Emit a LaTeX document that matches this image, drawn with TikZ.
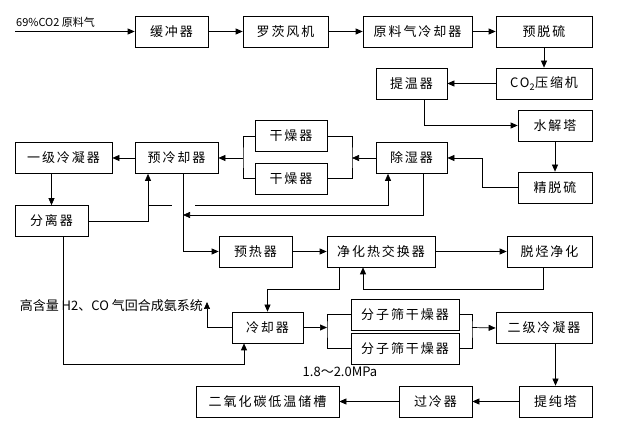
\documentclass[tikz,border=0pt]{standalone}
\usepackage{fontspec}
\setmainfont[LetterSpace=15]{Noto Sans CJK SC}
\newfontfamily\lblfont{Noto Sans CJK SC}
\usetikzlibrary{arrows.meta}

\begin{document}
\begin{tikzpicture}[x=1pt, y=-1pt,
    box/.style={draw, line width=0.7pt, minimum height=31pt, inner sep=0pt,
        font=\fontsize{13}{15}\selectfont},
    pipe/.style={line width=0.7pt},
    flow/.style={pipe, -{Triangle[length=7pt,width=6pt]}},
    lbl/.style={inner sep=0pt, font=\lblfont\fontsize{13}{15}\selectfont}]
    \useasboundingbox (0,0) rectangle (619,435);

    % Feed line
    \node[box, minimum width=73pt] (buf) at (171.5,31.5) {缓冲器};
    \node[box, minimum width=85pt] (fan) at (285.5,31.5) {罗茨风机};
    \node[box, minimum width=109pt] (feedcool) at (417.5,31.5) {原料气冷却器};
    \node[box, minimum width=96pt] (predes) at (544,31.5) {预脱硫};
    \node[box, minimum width=96pt] (comp) at (544,83.5) {CO\textsubscript{2}压缩机};
    \node[box, minimum width=71pt] (heater) at (411.5,83.5) {提温器};
    \node[box, minimum width=74pt] (hydro) at (555,125.5) {水解塔};
    \node[box, minimum width=74pt] (finedes) at (555,187.5) {精脱硫};

    % Drying and first condensation
    \node[box, minimum width=71pt] (dehum) at (411.5,158) {除湿器};
    \node[box, minimum width=72pt] (dryA) at (291,136) {干燥器};
    \node[box, minimum width=72pt] (dryB) at (291,178.5) {干燥器};
    \node[box, minimum width=83pt] (precool) at (176.5,158) {预冷却器};
    \node[box, minimum width=97pt] (condA) at (63.5,158) {一级冷凝器};
    \node[box, minimum width=73pt] (sep) at (51.5,221) {分离器};

    % Purification
    \node[box, minimum width=73pt] (prehe) at (255.5,251.5) {预热器};
    \node[box, minimum width=108pt] (hx) at (381,251.5) {净化热交换器};
    \node[box, minimum width=85pt] (dehc) at (549.5,251.5) {脱烃净化};
    \node[box, minimum width=71pt] (cooler) at (267.5,327.5) {冷却器};
    \node[box, minimum width=108pt] (sieveA) at (405,314.5) {分子筛干燥器};
    \node[box, minimum width=108pt] (sieveB) at (405,348.5) {分子筛干燥器};
    \node[box, minimum width=96pt] (condB) at (544,328) {二级冷凝器};
    \node[box, minimum width=73pt] (purif) at (555.5,401.5) {提纯塔};
    \node[box, minimum width=73pt] (subc) at (435.5,401.5) {过冷器};
    \node[box, minimum width=143pt] (tank) at (267.5,401.5) {二氧化碳低温储槽};

    % Labels
    \node[lbl, anchor=south west, font=\lblfont\fontsize{11}{13}\selectfont] (feedlbl) at (16,28) {69\%CO2 原料气};
    \node[lbl, anchor=east] (retlbl) at (203,306) {高含量 H2、CO 气回合成氨系统};
    \node[lbl] (press) at (340,372) {1.8～2.0MPa};

    % Helper points
    \coordinate (feedin) at (15,31.5);
    \coordinate (dryR) at (352,158);
    \coordinate (dryL) at (243,158);
    \coordinate (split) at (148,205);
    \coordinate (jumpL) at (172,205);
    \coordinate (jumpR) at (195,205);
    \coordinate (merge) at (183,215);
    \coordinate (retin) at (207,302);
    \coordinate (sepbend) at (63,364);
    \coordinate (sieveL) at (327,327.5);
    \coordinate (sieveR) at (472,327.5);

    % Top row
    \draw[flow] (feedin) -- (buf);
    \draw[flow] (buf) -- (fan);
    \draw[flow] (fan) -- (feedcool);
    \draw[flow] (feedcool) -- (predes);
    \draw[flow] (predes) -- (comp);
    \draw[flow] (comp) -- (heater);
    \draw[flow] ([xshift=12.5]heater.south) |- (hydro.west);
    \draw[flow] (hydro) -- (finedes);
    \draw[flow] (finedes.west) -- ++(-35,0) |- (dehum.east);

    % Dryers
    \draw[pipe] (dryA.east) -| (dryR) |- (dryB.east);
    \draw[pipe] (dryA.west) -| (dryL) |- (dryB.west);
    \draw[flow] (dehum.west) -- (dryR);
    \draw[flow] (dryL) -- (precool.east);
    \draw[flow] (precool.west) -- (condA.east);
    \draw[flow] (sep.north |- condA.south) -- (sep.north);
    \draw[flow] (sep.east) -| ([xshift=-28.5]precool.south);
    \draw[pipe] (split) -- (jumpL);
    \draw[flow] (jumpR) -| ([xshift=-23.5]dehum.south);
    \draw[flow] ([xshift=11.5]dehum.south) |- (merge);
    \draw[flow] ([xshift=6.5]precool.south) |- (prehe.west);

    % Purification and second condensation
    \draw[flow] (prehe) -- (hx);
    \draw[flow] (hx) -- (dehc);
    \draw[flow] ([xshift=-6.5]dehc.south) -- ++(0,22) -| ([xshift=-18]hx.south);
    \draw[flow] ([xshift=-42]hx.south) -- ++(0,22) -| (cooler.north);
    \draw[flow] (cooler.west) -| (retin);
    \draw[flow] ([xshift=11.5]sep.south) -- (sepbend) -| ([xshift=-23.5]cooler.south);
    \draw[flow] (cooler.east) -- (sieveL);
    \draw[pipe] (sieveA.west) -| (sieveL) |- (sieveB.west);
    \draw[pipe] (sieveA.east) -| (sieveR) |- (sieveB.east);
    \draw[flow] (sieveR) -- (condB.west);
    \draw[flow] (purif.north |- condB.south) -- (purif.north);
    \draw[flow] (purif) -- (subc);
    \draw[flow] (subc) -- (tank);
\end{tikzpicture}
\end{document}
